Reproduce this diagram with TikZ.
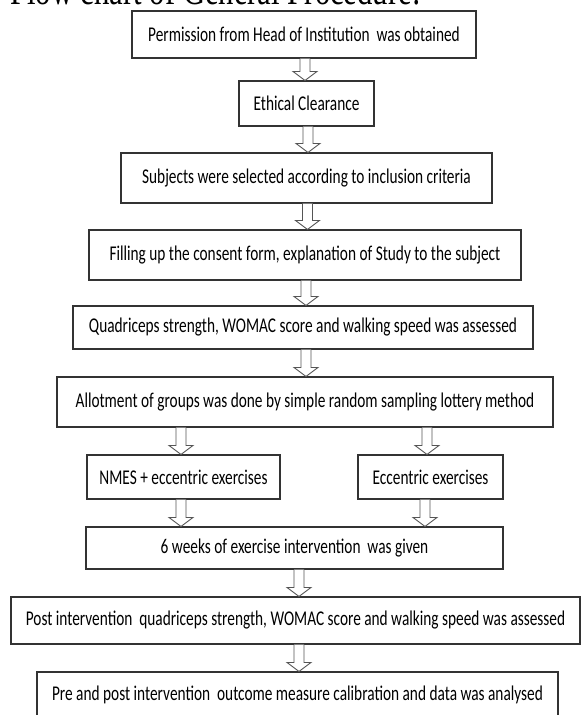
\documentclass[tikz,border=0pt]{standalone}
\usepackage{fontspec}
\setmainfont[FakeStretch=0.73]{Carlito}
\newfontfamily\titlefont[FakeStretch=0.73]{Liberation Serif}
\usepackage{tikz}
\usetikzlibrary{calc}
\definecolor{bInk}{HTML}{333333}
\definecolor{aLine}{HTML}{555555}
\newcommand{\hollowarrow}[4][0pt]{%
  \draw[harrow] let \p3=(#2), \p1=(#3.south), \p2=(#4.north) in
    (\x3+#1-5pt,\y1) -- (\x3+#1-5pt,\y2+9pt) -- (\x3+#1-12pt,\y2+9pt) -- (\x3+#1,\y2)
    -- (\x3+#1+12pt,\y2+9pt) -- (\x3+#1+5pt,\y2+9pt) -- (\x3+#1+5pt,\y1);}

\begin{document}
\begin{tikzpicture}[x=1pt, y=-1pt,
    box/.style={draw=bInk, line width=1.1pt, fill=white, inner sep=0pt,
      font=\fontsize{21}{24}\selectfont},
    harrow/.style={draw=aLine, line width=0.9pt, fill=white, line join=miter}]
  \useasboundingbox (0,0) rectangle (581,715);
  \clip (0,0) rectangle (581,715);
  \node[anchor=base west, inner sep=0pt, font=\titlefont\fontsize{42}{44}\selectfont] (title) at (10,4.5) {Flow chart of General Procedure:};
  \node[box, minimum width=344pt, minimum height=47pt] (perm) at (304,34.5) {Permission from Head of Institution~ was obtained};
  \node[box, minimum width=135pt, minimum height=45pt] (ethic) at (306.5,103.5) {Ethical Clearance};
  \node[box, minimum width=371pt, minimum height=50pt] (subj) at (306.5,178) {Subjects were selected according to inclusion criteria};
  \node[box, minimum width=432pt, minimum height=50pt] (consent) at (305,255) {Filling up the consent form, explanation of Study to the subject};
  \node[box, minimum width=460pt, minimum height=43pt] (pre) at (303,327.5) {Quadriceps strength, WOMAC score and walking speed was assessed};
  \node[box, minimum width=496pt, minimum height=50pt] (allot) at (305,402) {Allotment of groups was done by simple random sampling lottery method};
  \node[box, minimum width=193pt, minimum height=44pt] (nmes) at (183.5,477) {NMES + eccentric exercises};
  \node[box, minimum width=145pt, minimum height=44pt] (ecc) at (430.5,477) {Eccentric exercises};
  \node[box, minimum width=417pt, minimum height=42pt] (weeks) at (294.5,548) {6 weeks of exercise intervention~ was given};
  \node[box, minimum width=569pt, minimum height=47pt] (post) at (295.5,620.5) {Post intervention~ quadriceps strength, WOMAC score and walking speed was assessed};
  \node[box, minimum width=521pt, minimum height=46pt] (anal) at (297.5,695) {Pre and post intervention~ outcome measure calibration and data was analysed};
  \hollowarrow[1pt]{perm}{perm}{ethic}
  \hollowarrow[1.5pt]{ethic}{ethic}{subj}
  \hollowarrow[1pt]{subj}{subj}{consent}
  \hollowarrow[1pt]{consent}{consent}{pre}
  \hollowarrow[3pt]{pre}{pre}{allot}
  \hollowarrow[-2.5pt]{nmes}{allot}{nmes}
  \hollowarrow[-3.5pt]{ecc}{allot}{ecc}
  \hollowarrow[-2.5pt]{nmes}{nmes}{weeks}
  \hollowarrow[-5.5pt]{ecc}{ecc}{weeks}
  \hollowarrow[4.5pt]{weeks}{weeks}{post}
  \hollowarrow[3.5pt]{post}{post}{anal}
\end{tikzpicture}
\end{document}
